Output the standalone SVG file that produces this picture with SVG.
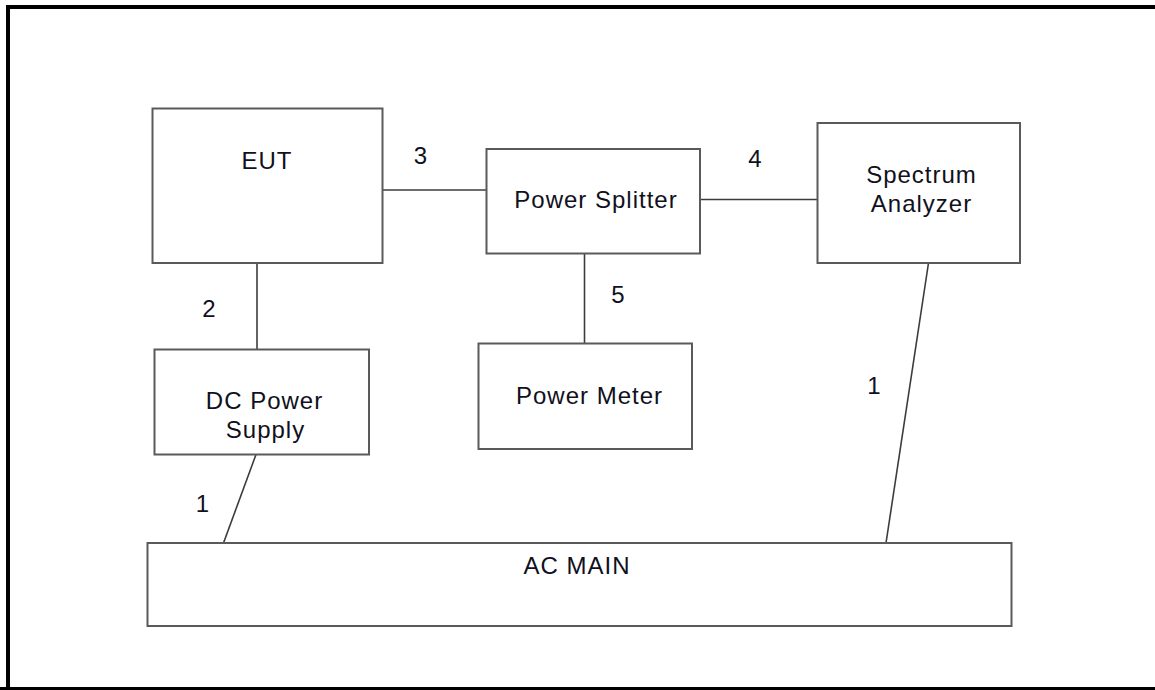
<svg xmlns="http://www.w3.org/2000/svg" width="1155" height="690" viewBox="0 0 1155 690">
<style>
.box{fill:#fff;stroke:#5a5a5a;stroke-width:2}
.ln{fill:none;stroke:#3c3c3c;stroke-width:1.6}
text{font-family:"Liberation Sans",Arial,sans-serif;font-size:24px;letter-spacing:1px;fill:#101020;text-anchor:middle}
</style>
<rect x="0" y="0" width="1155" height="690" fill="#fff"/>
<path d="M8,690 V7 H1160" fill="none" stroke="#000" stroke-width="4"/>
<line x1="0" y1="688.5" x2="1155" y2="688.5" stroke="#000" stroke-width="3"/>
<g id="connectors">
<line class="ln" x1="382.5" y1="190" x2="486.5" y2="190"/>
<line class="ln" x1="700" y1="199.5" x2="817" y2="199.5"/>
<line class="ln" x1="584.5" y1="253.5" x2="584.5" y2="343.5"/>
<line class="ln" x1="257" y1="263" x2="257" y2="349.5"/>
<line class="ln" x1="256" y1="454.5" x2="223.5" y2="543"/>
<line class="ln" x1="928.5" y1="263" x2="886" y2="543"/>
<text x="421" y="164">3</text>
<text x="755.5" y="167">4</text>
<text x="618.5" y="303">5</text>
<text x="209.5" y="317">2</text>
<text x="203" y="512">1</text>
<text x="874.5" y="394">1</text>
</g>
<g id="eut"><rect class="box" x="152.5" y="108.5" width="230" height="154.5"/><text x="267" y="169">EUT</text></g>
<g id="splitter"><rect class="box" x="486.5" y="149" width="213.5" height="104.5"/><text x="596" y="208">Power Splitter</text></g>
<g id="spectrum"><rect class="box" x="817.5" y="123" width="202.5" height="140"/><text x="921.5" y="182.5">Spectrum</text><text x="921.5" y="211.5">Analyzer</text></g>
<g id="meter"><rect class="box" x="478.5" y="343.5" width="213.5" height="105.5"/><text x="589.5" y="404">Power Meter</text></g>
<g id="dcps"><rect class="box" x="154.5" y="349.5" width="214.5" height="105"/><text x="264.5" y="409">DC Power</text><text x="265.5" y="438">Supply</text></g>
<g id="acmain"><rect class="box" x="147.5" y="543" width="864" height="83"/><text x="577" y="574">AC MAIN</text></g>
</svg>
